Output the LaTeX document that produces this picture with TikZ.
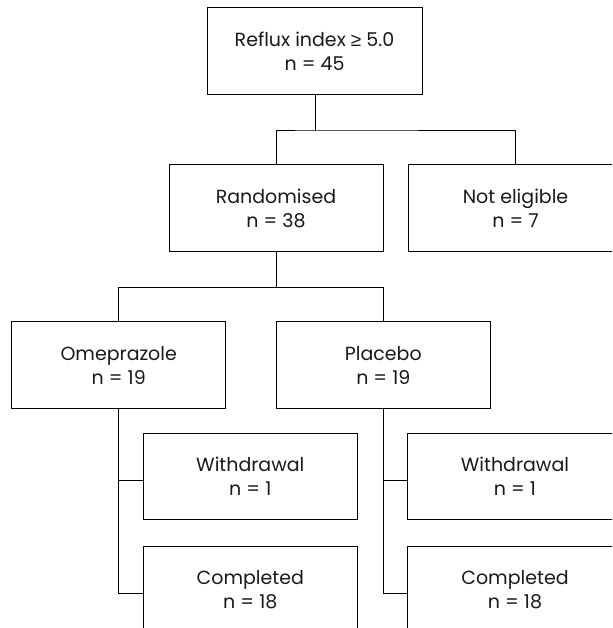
\documentclass[tikz,border=0pt]{standalone}
\usepackage{fontspec}
\setmainfont{Poppins}
\newfontfamily\geqfont{Liberation Sans}
\begin{document}
\begin{tikzpicture}[x=1pt,y=-1pt,
  box/.style={draw=black, line width=1pt, inner sep=0pt, minimum width=214pt, minimum height=86.5pt,
    align=center, font=\fontsize{19}{24}\selectfont, text=black!90},
  conn/.style={draw=black, line width=1pt}]
\useasboundingbox (0,0) rectangle (612,628);
\clip (0,0) rectangle (612,628);
\node[box, minimum width=215pt, minimum height=87pt] (top) at (314.5,51.5) {Reflux index {\geqfont ≥} 5.0\\n = 45};
\node[box] (rand) at (276,208) {Randomised\\n = 38};
\node[box, minimum width=215pt] (notel) at (515.5,208) {Not eligible\\n = 7};
\node[box] (ome) at (118.7,365) {Omeprazole\\n = 19};
\node[box] (plac) at (383.3,365) {Placebo\\n = 19};
\node[box] (wl) at (250.3,476.7) {Withdrawal\\n = 1};
\node[box, minimum width=215pt] (wr) at (515,476.7) {Withdrawal\\n = 1};
\node[box, minimum height=87pt] (cl) at (250.3,589.5) {Completed\\n = 18};
\node[box, minimum width=215pt, minimum height=87pt] (cr) at (515,589.5) {Completed\\n = 18};
\coordinate (j1) at (315,131);
\coordinate (j2) at (276,287.7);
\draw[conn] (top.south -| j1) -- (j1);
\draw[conn] (rand.north) |- (j1) -| (notel.north);
\draw[conn] (rand.south) -- (j2);
\draw[conn] (ome.north) |- (j2) -| (plac.north);
\draw[conn] (ome.south) |- ([yshift=-4pt]wl.west);
\draw[conn] (ome.south) |- ([yshift=-3.5pt]cl.west);
\draw[conn] (plac.south) |- ([yshift=-4pt]wr.west);
\draw[conn] (plac.south) |- ([yshift=-3.5pt]cr.west);
\end{tikzpicture}
\end{document}
